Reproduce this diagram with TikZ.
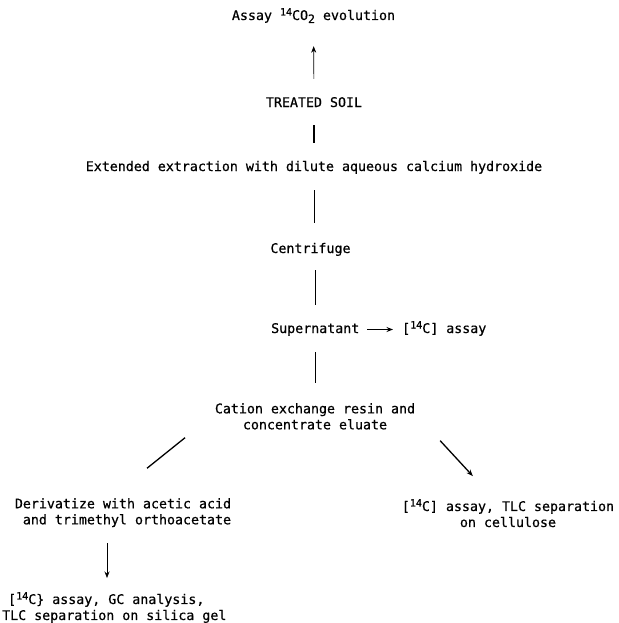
\documentclass[tikz,border=0pt]{standalone}
\usepackage{fontspec}
\newfontfamily\twfont[FakeBold=0.6]{DejaVu Sans Mono}
\usetikzlibrary{arrows.meta,calc}
\newcommand\supr[1]{\raisebox{4.5pt}{\fontsize{10}{10}\selectfont #1}}
\newcommand\subr[1]{\raisebox{-3pt}{\fontsize{11.5}{11}\selectfont #1}}
\begin{document}
\begin{tikzpicture}[x=1pt,y=-1pt,
  lbl/.style={inner sep=0pt,font=\twfont\fontsize{13.3}{16}\selectfont},
  one/.style={lbl,text height=10pt,text depth=3pt,anchor=base},
  multi/.style={lbl,anchor=north},
  link/.style={line width=1pt},
  thinlink/.style={line width=0.7pt},
  arr/.style={-{Stealth[length=6.5pt,width=5pt]}}]
\useasboundingbox (0,0) rectangle (618,623);
\node[one] (assay) at (313.5,20) {Assay \supr{14}CO\subr{2} evolution};
\node[one] (soil) at (314,107) {TREATED SOIL};
\node[one] (extr) at (314,171) {Extended extraction with dilute aqueous calcium hydroxide};
\node[one] (cent) at (310.5,253) {Centrifuge};
\node[one,anchor=base west] (sup) at (271,333) {Supernatant};
\node[one,anchor=base west] (supa) at (402,333) {[\supr{14}C] assay};
\node[multi,align=center] (cat) at (315,403) {Cation exchange resin and\\concentrate eluate};
\node[multi,align=right] (der) at (123,498) {Derivatize with acetic acid\\and trimethyl orthoacetate};
\node[multi,align=center] (tlc) at (508,499) {[\supr{14}C] assay, TLC separation\\on cellulose};
\node[multi,align=left,anchor=north west] (gc) at (2,592) {\hspace*{6pt}[\supr{14}C\} assay, GC analysis,\\TLC separation on silica gel};
\draw[thinlink,arr,shorten <=18pt,shorten >=23pt] (soil.north) -- (assay.south);
\draw[link,line width=1.4pt,shorten <=15pt,shorten >=18pt] (soil.south) -- (extr.north);
\draw[link,shorten <=16pt,shorten >=20pt] (extr.south) -- (extr.south |- cent.north);
\draw[link,shorten <=14pt,shorten >=18pt] (cent.south -| sup.north) -- (sup.north);
\draw[link,arr,shorten <=8pt,shorten >=9pt] (sup.east) -- (supa.west);
\draw[thinlink,shorten <=16pt,shorten >=20pt] (sup.south) -- (sup.south |- cat.north);
\draw[link,line width=1.3pt,shorten <=12.7pt,shorten >=47.5pt] ([xshift=-120pt]cat.south) -- ([xshift=-13pt]der.north);
\draw[link,line width=1.3pt,arr,shorten <=14.9pt,shorten >=31.2pt] ([xshift=115pt]cat.south) -- ([xshift=-14pt]tlc.north);
\draw[thinlink,arr,shorten <=16pt,shorten >=14pt] ([xshift=-16pt]der.south) -- ([xshift=-16pt]der.south |- gc.north);
\end{tikzpicture}
\end{document}
